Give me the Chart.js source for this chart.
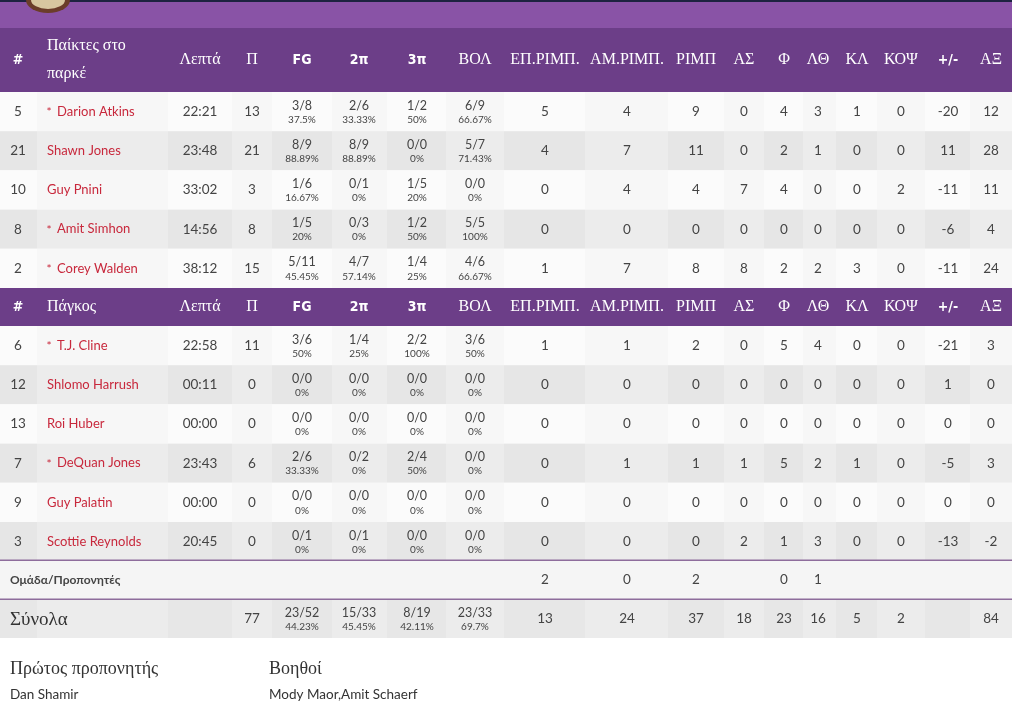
<!DOCTYPE html>
<html><head><meta charset="utf-8">
<script src="https://cdn.jsdelivr.net/npm/chart.js@4"></script>
<style>html,body{margin:0;padding:0;background:#fff;}canvas{display:block;}</style>
</head><body>
<canvas id="c" width="1024" height="726"></canvas>
<script>
const headers = ['#', 'Παίκτες στο|παρκέ', 'Λεπτά', 'Π', 'FG', '2π', '3π', 'ΒΟΛ', 'ΕΠ.ΡΙΜΠ.', 'ΑΜ.ΡΙΜΠ.', 'ΡΙΜΠ', 'ΑΣ', 'Φ', 'ΛΘ', 'ΚΛ', 'ΚΟΨ', '+/-', 'ΑΞ'];
const benchHeader = 'Πάγκος';
// [no, starter, name, min, pts, fg, fg%, 2p, 2p%, 3p, 3p%, ft, ft%, oreb, dreb, reb, ast, pf, to, stl, blk, pm, eff]
const starters = [
  [5, 1, 'Darion Atkins', '22:21', 13, '3/8', '37.5%', '2/6', '33.33%', '1/2', '50%', '6/9', '66.67%', 5, 4, 9, 0, 4, 3, 1, 0, -20, 12],
  [21, 0, 'Shawn Jones', '23:48', 21, '8/9', '88.89%', '8/9', '88.89%', '0/0', '0%', '5/7', '71.43%', 4, 7, 11, 0, 2, 1, 0, 0, 11, 28],
  [10, 0, 'Guy Pnini', '33:02', 3, '1/6', '16.67%', '0/1', '0%', '1/5', '20%', '0/0', '0%', 0, 4, 4, 7, 4, 0, 0, 2, -11, 11],
  [8, 1, 'Amit Simhon', '14:56', 8, '1/5', '20%', '0/3', '0%', '1/2', '50%', '5/5', '100%', 0, 0, 0, 0, 0, 0, 0, 0, -6, 4],
  [2, 1, 'Corey Walden', '38:12', 15, '5/11', '45.45%', '4/7', '57.14%', '1/4', '25%', '4/6', '66.67%', 1, 7, 8, 8, 2, 2, 3, 0, -11, 24],
];
const bench = [
  [6, 1, 'T.J. Cline', '22:58', 11, '3/6', '50%', '1/4', '25%', '2/2', '100%', '3/6', '50%', 1, 1, 2, 0, 5, 4, 0, 0, -21, 3],
  [12, 0, 'Shlomo Harrush', '00:11', 0, '0/0', '0%', '0/0', '0%', '0/0', '0%', '0/0', '0%', 0, 0, 0, 0, 0, 0, 0, 0, 1, 0],
  [13, 0, 'Roi Huber', '00:00', 0, '0/0', '0%', '0/0', '0%', '0/0', '0%', '0/0', '0%', 0, 0, 0, 0, 0, 0, 0, 0, 0, 0],
  [7, 1, 'DeQuan Jones', '23:43', 6, '2/6', '33.33%', '0/2', '0%', '2/4', '50%', '0/0', '0%', 0, 1, 1, 1, 5, 2, 1, 0, -5, 3],
  [9, 0, 'Guy Palatin', '00:00', 0, '0/0', '0%', '0/0', '0%', '0/0', '0%', '0/0', '0%', 0, 0, 0, 0, 0, 0, 0, 0, 0, 0],
  [3, 0, 'Scottie Reynolds', '20:45', 0, '0/1', '0%', '0/1', '0%', '0/0', '0%', '0/0', '0%', 0, 0, 0, 2, 1, 3, 0, 0, -13, -2],
];
const teamLabel = 'Ομάδα/Προπονητές';
const teamRow = ['', '', '', '', '', 2, 0, 2, '', 0, 1, '', '', '', ''];
const totalLabel = 'Σύνολα';
const totals = ['', 77, '23/52', '44.23%', '15/33', '45.45%', '8/19', '42.11%', '23/33', '69.7%', 13, 24, 37, 18, 23, 16, 5, 2, '', 84];
const coachTitle = 'Πρώτος προπονητής', coachName = 'Dan Shamir';
const assistTitle = 'Βοηθοί', assistNames = 'Mody Maor,Amit Schaerf';

// layout (column centres and edges)
const colX = [18, 47, 200, 252, 302, 359, 417, 475, 545, 627, 696, 744, 784, 818, 857, 901, 948, 991];
const colEdges = [0, 37, 168, 232, 272, 332, 387, 446, 504, 585, 668, 724, 764, 803, 836, 877, 925, 970, 1012];
const ROW = 39.2;

const serif = '"Liberation Serif", "DejaVu Serif", serif';
const sans = 'Lato, "Noto Sans", sans-serif';

const tablePlugin = {
  id: 'table',
  afterDraw(chart) {
    const ctx = chart.ctx;
    const X = (v) => chart.scales.x.getPixelForValue(v);
    const Y = (v) => chart.scales.y.getPixelForValue(v);
    const rect = (x0, y0, x1, y1, c) => { ctx.fillStyle = c; ctx.fillRect(X(x0), Y(y0), X(x1) - X(x0), Y(y1) - Y(y0)); };
    const text = (s, x, y, font, color, align = 'center') => {
      ctx.font = font; ctx.fillStyle = color; ctx.textAlign = align; ctx.textBaseline = 'middle';
      ctx.fillText(String(s), X(x), Y(y));
    };
    ctx.save();
    // top band
    rect(0, 0, 1012, 28, '#8953a6');
    rect(0, 0, 1012, 2, '#1d2340');
    ctx.fillStyle = '#6b3d2a';
    ctx.beginPath(); ctx.ellipse(X(48), Y(0), 22, 13, 0, 0, Math.PI); ctx.fill();
    ctx.fillStyle = '#d8c7a0';
    ctx.beginPath(); ctx.ellipse(X(48), Y(0), 17, 9, 0, 0, Math.PI); ctx.fill();

    const headerRow = (y0, y1, nameLabel) => {
      rect(0, y0, 1012, y1, '#6c3e88');
      const yc = (y0 + y1) / 2;
      headers.forEach((h, i) => {
        let label = i === 1 ? nameLabel : h;
        if (i === 1) {
          const parts = label.split('|');
          parts.forEach((p, k) => text(p, colX[1], yc + (k - (parts.length - 1) / 2) * 28, '16px ' + serif, '#fff', 'left'));
        } else if (['#', 'FG', '2π', '3π', '+/-'].includes(h)) {
          text(h, colX[i], yc, 'bold 14px "DejaVu Sans Condensed", sans-serif', '#fff');
        } else {
          text(h, colX[i], yc, '16px ' + serif, '#fff');
        }
      });
    };

    const playerRow = (r, y0, idx) => {
      const y1 = y0 + ROW, yc = y0 + ROW / 2;
      rect(0, y0, 1012, y1, idx % 2 ? '#ececec' : '#f7f7f7');
      for (let c = 0; c < colEdges.length - 1; c += 2) {
        rect(colEdges[c], y0, colEdges[c + 1], y1, idx % 2 ? 'rgba(0,0,0,0.025)' : 'rgba(255,255,255,0.5)');
      }
      const dark = '#444';
      text(r[0], colX[0], yc, '13.5px ' + sans, dark);
      if (r[1]) text('*', colX[1] + 2, yc + 1, '12px ' + sans, '#c8283c', 'center');
      text(r[2], colX[1] + (r[1] ? 10 : 0), yc, '13px ' + sans, '#c8283c', 'left');
      text(r[3], colX[2], yc, '13.5px ' + sans, dark);
      text(r[4], colX[3], yc, '13.5px ' + sans, dark);
      for (let k = 0; k < 4; k++) {
        text(r[5 + k * 2], colX[4 + k], yc - 6, '12.5px ' + sans, dark);
        text(r[6 + k * 2], colX[4 + k], yc + 8, '10px ' + sans, dark);
      }
      for (let k = 13; k < r.length; k++) text(r[k], colX[k - 5], yc, '13.5px ' + sans, dark);
    };

    headerRow(28, 92, headers[1]);
    starters.forEach((r, i) => playerRow(r, 92 + i * ROW, i));
    headerRow(288, 326, benchHeader);
    bench.forEach((r, i) => playerRow(r, 326 + i * ROW, i));

    // team row
    rect(0, 560, 1012, 599, '#f5f5f5');
    text(teamLabel, 10, 580, 'bold 12px ' + sans, '#444', 'left');
    teamRow.forEach((v, i) => { if (v !== '') text(v, colX[i + 3], 580, '13.5px ' + sans, '#444'); });
    // totals row
    rect(0, 599, 1012, 638, '#ececec');
    for (let c = 0; c < colEdges.length - 1; c += 2) rect(colEdges[c], 599, colEdges[c + 1], 638, 'rgba(0,0,0,0.02)');
    rect(0, 559.5, 1012, 561, '#8e6d9c');
    rect(0, 598.5, 1012, 600, '#8e6d9c');
    text(totalLabel, 10, 620, '19px ' + serif, '#333', 'left');
    text(totals[1], colX[3], 619, '13.5px ' + sans, '#444');
    for (let k = 0; k < 4; k++) {
      text(totals[2 + k * 2], colX[4 + k], 613, '12.5px ' + sans, '#444');
      text(totals[3 + k * 2], colX[4 + k], 627, '10px ' + sans, '#444');
    }
    for (let k = 10; k < totals.length; k++) if (totals[k] !== '') text(totals[k], colX[k - 2], 619, '13.5px ' + sans, '#444');

    // coaches
    text(coachTitle, 10, 669, '18px ' + serif, '#333', 'left');
    text(coachName, 10, 695, '13.5px ' + sans, '#333', 'left');
    text(assistTitle, 269, 669, '18px ' + serif, '#333', 'left');
    text(assistNames, 269, 695, '13.5px ' + sans, '#333', 'left');
    ctx.restore();
  }
};

new Chart(document.getElementById('c'), {
  type: 'scatter',
  data: { datasets: [{ data: [] }] },
  options: {
    responsive: false, animation: false, devicePixelRatio: 1,
    layout: { padding: 0 },
    plugins: { legend: { display: false }, tooltip: { enabled: false } },
    scales: {
      x: { type: 'linear', min: 0, max: 1024, display: false },
      y: { type: 'linear', min: 0, max: 726, reverse: true, display: false },
    },
  },
  plugins: [tablePlugin],
});
</script>
</body></html>
